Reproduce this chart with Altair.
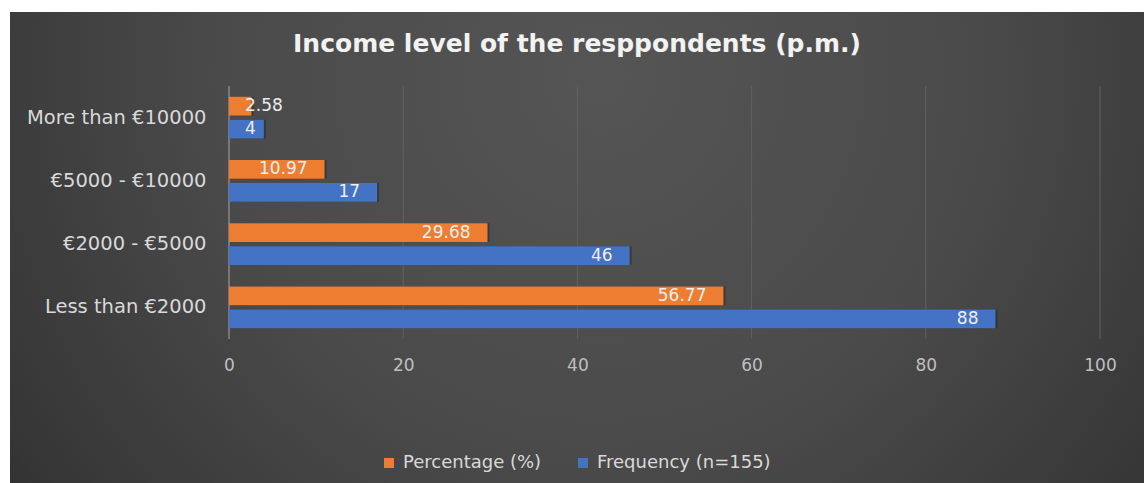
import altair as alt
import pandas as pd

# Income brackets (top to bottom) and the two series
categories = ["More than €10000", "€5000 - €10000", "€2000 - €5000", "Less than €2000"]
percentage = [2.58, 10.97, 29.68, 56.77]
frequency = [4, 17, 46, 88]
series_names = ["Percentage (%)", "Frequency (n=155)"]
series_colors = ["#ED7D31", "#4472C4"]
x_ticks = [0, 20, 40, 60, 80, 100]
title_text = "Income level of the resppondents (p.m.)"

rows = []
for cat, p, f in zip(categories, percentage, frequency):
    rows.append({"category": cat, "series": series_names[0], "value": p, "label": f"{p:.2f}"})
    rows.append({"category": cat, "series": series_names[1], "value": f, "label": f"{f}"})
df = pd.DataFrame(rows)
grid_df = pd.DataFrame({"tick": x_ticks})

W, H = 871, 253
PAD_L, PAD_T = 229, 86
TOTAL_W, TOTAL_H = 1144, 483

font = "DejaVu Sans"

y_enc = alt.Y(
    "category:N",
    sort=categories,
    scale=alt.Scale(paddingInner=0.34, paddingOuter=0.17),
    axis=alt.Axis(
        title=None,
        labelFont=font,
        labelFontSize=19.5,
        labelColor="#d9d9d9",
        labelPadding=23,
        labelLimit=300,
        ticks=False,
        domain=False,
        grid=False,
        zindex=1,
    ),
)
yoff_enc = alt.YOffset("series:N", sort=series_names, scale=alt.Scale(paddingInner=0.18))
x_enc = alt.X(
    "value:Q",
    scale=alt.Scale(domain=[0, 100], nice=False),
    axis=alt.Axis(
        title=None,
        values=x_ticks,
        labelFont=font,
        labelFontSize=17,
        labelColor="#bfbfbf",
        labelPadding=18,
        labelFlush=False,
        ticks=False,
        domain=False,
        grid=False,
        zindex=1,
    ),
)
color_enc = alt.Color(
    "series:N",
    sort=series_names,
    scale=alt.Scale(domain=series_names, range=series_colors),
    legend=alt.Legend(
        title=None,
        orient="none",
        direction="horizontal",
        legendX=151,
        legendY=368,
        symbolType="square",
        symbolSize=100,
        symbolStrokeWidth=0,
        labelFont=font,
        labelFontSize=18,
        labelColor="#d9d9d9",
        labelOffset=5,
        labelLimit=300,
        columnPadding=32,
    ),
)

# Dark radial backdrop behind the whole chart
backdrop = alt.Chart(pd.DataFrame({"a": [0]})).mark_rect(
    clip=False,
    fill=alt.Gradient(
        gradient="radial",
        x1=0.52, y1=0.35, r1=0.0,
        x2=0.52, y2=0.35, r2=0.75,
        stops=[
            alt.GradientStop(color="#555555", offset=0),
            alt.GradientStop(color="#4a4a4a", offset=0.45),
            alt.GradientStop(color="#363636", offset=0.8),
            alt.GradientStop(color="#252525", offset=1),
        ],
    ),
).encode(
    x=alt.value(10 - PAD_L),
    x2=alt.value(TOTAL_W - PAD_L),
    y=alt.value(12 - PAD_T),
    y2=alt.value(TOTAL_H - PAD_T),
)

# Vertical gridlines at the x ticks; the zero line is the lighter category axis
grid = alt.Chart(grid_df).mark_rule(strokeWidth=1).encode(
    x=alt.X("tick:Q", scale=alt.Scale(domain=[0, 100], nice=False)),
    color=alt.condition("datum.tick == 0", alt.value("#a6a6a6"), alt.value("#616161")),
)

# Soft drop shadow under each bar
shadow = alt.Chart(df).mark_bar(color="#141414", opacity=0.35, xOffset=2, yOffset=3).encode(
    y=y_enc, yOffset=yoff_enc, x=x_enc
)

bars = alt.Chart(df).mark_bar().encode(
    y=y_enc, yOffset=yoff_enc, x=x_enc, color=color_enc
)

text_big = alt.Chart(df).transform_filter("datum.value >= 5").mark_text(
    align="right", baseline="middle", dx=-17, font=font, fontSize=17, color="#eeeeee"
).encode(y=y_enc, yOffset=yoff_enc, x=x_enc, text="label:N")

text_small = alt.Chart(df).transform_filter("datum.value < 5").mark_text(
    align="left", baseline="middle", dx=16, font=font, fontSize=17, color="#eeeeee"
).encode(y=y_enc, yOffset=yoff_enc, x=alt.datum(0), text="label:N")

title = alt.Chart(pd.DataFrame({"t": [title_text]})).mark_text(
    align="center", baseline="alphabetic", font=font, fontWeight="bold",
    fontSize=25, color="#f2f2f2",
).encode(x=alt.value(577 - PAD_L), y=alt.value(52 - PAD_T), text="t:N")

chart = alt.layer(backdrop, grid, shadow, bars, text_big, text_small, title).properties(
    width=W,
    height=H,
    autosize=alt.AutoSizeParams(type="none"),
    padding={"left": PAD_L, "top": PAD_T, "right": TOTAL_W - PAD_L - W, "bottom": TOTAL_H - PAD_T - H},
    background="#ffffff",
).configure_view(stroke=None)

chart.save("out.html", embed_options={"renderer": "svg", "actions": False})
